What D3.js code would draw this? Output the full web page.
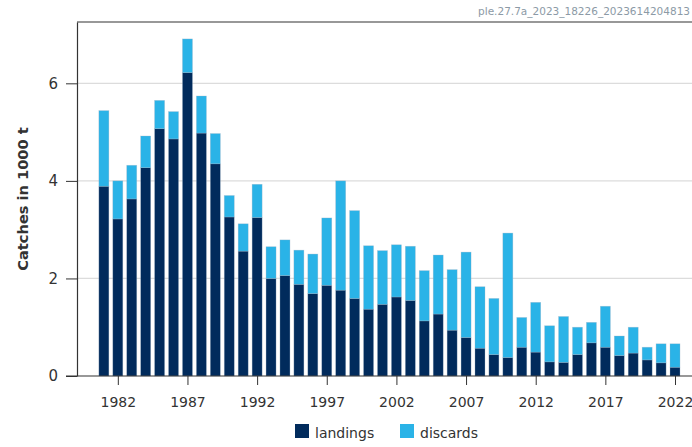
<!DOCTYPE html>
<html>
<head>
<meta charset="utf-8">
<script src="https://cdn.jsdelivr.net/npm/d3@7"></script>
<style>
  body { margin: 0; background: #fff; }
  svg text { font-family: "DejaVu Sans", sans-serif; fill: #333; }
</style>
</head>
<body>
<div id="graph"></div>
<script>
// catches of ple.27.7a, in 1000 t
let years = d3.range(1981, 2023);
let landings = [3.89, 3.22, 3.63, 4.27, 5.07, 4.86, 6.22, 4.98, 4.35, 3.26,
  2.56, 3.25, 2.00, 2.06, 1.88, 1.69, 1.86, 1.76, 1.59, 1.37,
  1.47, 1.62, 1.55, 1.13, 1.27, 0.94, 0.79, 0.57, 0.44, 0.38,
  0.59, 0.49, 0.29, 0.28, 0.44, 0.68, 0.59, 0.42, 0.47, 0.33,
  0.27, 0.18];
let totals = [5.44, 4.00, 4.32, 4.92, 5.65, 5.42, 6.91, 5.74, 4.97, 3.70,
  3.12, 3.93, 2.65, 2.79, 2.58, 2.50, 3.24, 4.00, 3.39, 2.67,
  2.57, 2.69, 2.66, 2.16, 2.48, 2.18, 2.54, 1.83, 1.59, 2.93,
  1.20, 1.51, 1.03, 1.22, 1.00, 1.10, 1.43, 0.82, 1.00, 0.59,
  0.66, 0.66];
let discards = totals.map((t, i) => +(t - landings[i]).toFixed(2));
let yTicks = [0, 2, 4, 6];
let xTicks = [1982, 1987, 1992, 1997, 2002, 2007, 2012, 2017, 2022];
let seriesNames = ["landings", "discards"];
let colores = { landings: "#012b5c", discards: "#2ab3e7" };

let svgWidth = 692, svgHeight = 447;
let margin = { left: 77, right: 692, top: 22, bottom: 376 };

let svg = d3.select("#graph").append("svg")
  .attr("width", svgWidth)
  .attr("height", svgHeight);

let x = d3.scaleLinear().domain([1979.07, 2023.22]).range([margin.left, margin.right]);
let y = d3.scaleLinear().domain([0, 7.257]).range([margin.bottom, margin.top]);
let barW = 10;

// gridlines
svg.append("g").selectAll("line")
  .data(yTicks.filter(d => d > 0))
  .join("line")
  .attr("x1", margin.left).attr("x2", margin.right)
  .attr("y1", d => y(d)).attr("y2", d => y(d))
  .attr("stroke", "#dcdcdc").attr("stroke-width", 1.2);

// stacked bars
let rows = years.map((yr, i) => ({ year: yr, landings: landings[i], discards: discards[i] }));
let stack = d3.stack().keys(seriesNames)(rows);

svg.append("g").selectAll("g")
  .data(stack)
  .join("g")
  .attr("fill", d => colores[d.key])
  .selectAll("rect")
  .data(d => d)
  .join("rect")
  .attr("x", d => x(d.data.year) - barW / 2)
  .attr("width", barW)
  .attr("y", d => y(d[1]))
  .attr("height", d => y(d[0]) - y(d[1]))
  .attr("stroke", "#9fb3c8").attr("stroke-opacity", 0.5).attr("stroke-width", 0.6);

// top frame line
svg.append("line")
  .attr("x1", margin.left).attr("x2", margin.right).attr("y1", margin.top).attr("y2", margin.top)
  .attr("stroke", "#333").attr("stroke-width", 1.2);

// y axis
let leftAxis = d3.axisLeft(y).tickValues(yTicks).tickSize(11).tickPadding(8).tickSizeOuter(0);
let gy = svg.append("g").attr("transform", `translate(${margin.left},0)`).call(leftAxis);
gy.select(".domain").attr("stroke", "#333").attr("stroke-width", 1.2);
gy.selectAll(".tick line").attr("stroke", "#333");
gy.selectAll("text").style("font-size", "15px").attr("fill", "#333");

// x axis
let bottomAxis = d3.axisBottom(x).tickValues(xTicks).tickFormat(d3.format("d"))
  .tickSize(9).tickPadding(12).tickSizeOuter(0);
let gx = svg.append("g").attr("transform", `translate(0,${margin.bottom})`).call(bottomAxis);
gx.select(".domain").attr("d", `M66,0H${margin.right}`).attr("stroke", "#333").attr("stroke-width", 1.2);
gx.selectAll(".tick line").attr("stroke", "#333");
gx.selectAll("text").style("font-size", "14px").attr("fill", "#333");

// y label
svg.append("text")
  .attr("transform", "translate(28,199) rotate(-90)")
  .attr("text-anchor", "middle")
  .style("font-size", "14.6px").style("font-weight", "bold")
  .attr("fill", "#222")
  .text("Catches in 1000 t");

// code label top right
svg.append("text")
  .attr("x", 690).attr("y", 15)
  .attr("text-anchor", "end")
  .style("font-size", "10.5px")
  .style("fill", "#8c9aa6")
  .text("ple.27.7a_2023_18226_2023614204813");

// legend
let legX = [295, 400];
let leg = svg.append("g").selectAll("g")
  .data(seriesNames)
  .join("g")
  .attr("transform", (d, i) => `translate(${legX[i]},424)`);
leg.append("rect").attr("width", 14).attr("height", 14).attr("fill", d => colores[d]);
leg.append("text").attr("x", 20).attr("y", 14)
  .style("font-size", "14px").text(d => d);
</script>
</body>
</html>
